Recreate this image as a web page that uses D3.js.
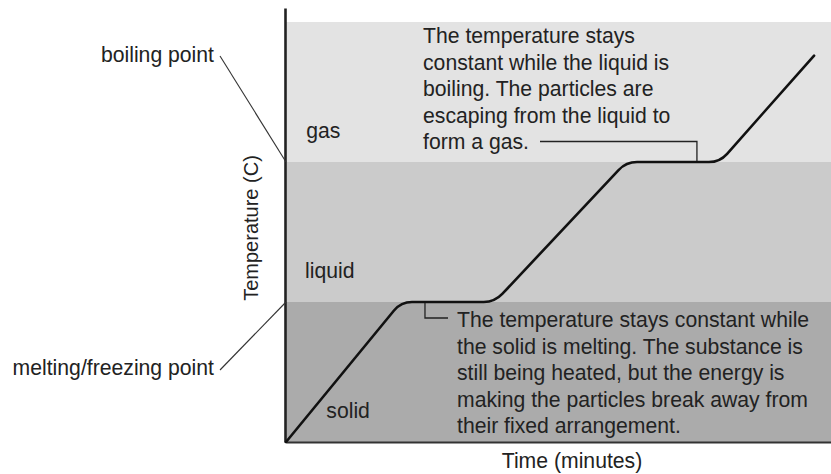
<!DOCTYPE html>
<html>
<head>
<meta charset="utf-8">
<script src="https://cdn.jsdelivr.net/npm/d3@7/dist/d3.min.js"></script>
<style>
  html, body { margin: 0; padding: 0; background: #fff; }
  svg { display: block; }
  text { font-family: "Liberation Sans", Arial, Helvetica, sans-serif; fill: #222; }
</style>
</head>
<body>
<svg id="chart" width="831" height="474"></svg>
<script>
// ---- data ----
const phases = ["solid", "liquid", "gas"];
const phaseLow = [-100, 0, 100];
const phaseHigh = [0, 100, 200];
const phaseColors = ["#ababab", "#cbcbcb", "#e3e3e3"];
const phaseLabelTime = [0.74, 0.35, 0.37];
const phaseLabelTemp = [-83, 17, 117];

const times = [0, 2.11, 3.83, 6.24, 7.96, 9.69];        // minutes
const temps = [-100, 0, 0, 100, 100, 176];              // °C

const pointNames = ["boiling point", "melting/freezing point"];
const pointTemps = [100, 0];

const noteGasLines = [
  "The temperature stays",
  "constant while the liquid is",
  "boiling. The particles are",
  "escaping from the liquid to",
  "form a gas."
];
const noteSolidLines = [
  "The temperature stays constant while",
  "the solid is melting. The substance is",
  "still being heated, but the energy is",
  "making the particles break away from",
  "their fixed arrangement."
];
const noteAnchorTime = [7.54, 2.55];
const noteAnchorTemp = [100, 0];

const xTitle = "Time (minutes)";
const yTitle = "Temperature (C)";

// ---- scales ----
const svg = d3.select("#chart");
const x = d3.scaleLinear().domain([0, 10]).range([286, 831]);
const y = d3.scaleLinear().domain([-100, 210]).range([442, 8]);
const fs = 21.2;

// phase bands
svg.append("g").selectAll("rect").data(phases).join("rect")
  .attr("x", x(0))
  .attr("width", x(10) - x(0))
  .attr("y", (d, i) => y(phaseHigh[i]))
  .attr("height", (d, i) => y(phaseLow[i]) - y(phaseHigh[i]))
  .attr("fill", (d, i) => phaseColors[i]);

// phase labels
svg.append("g").selectAll("text").data(phases).join("text")
  .attr("x", (d, i) => x(phaseLabelTime[i]))
  .attr("y", (d, i) => y(phaseLabelTemp[i]))
  .attr("font-size", fs)
  .text(d => d);

// axes (no ticks)
const yAxis = d3.axisLeft(y).tickValues([]).tickSizeOuter(0);
const xAxis = d3.axisBottom(x).tickValues([]).tickSizeOuter(0);
svg.append("g").attr("transform", `translate(${x(0) - 1},0)`).call(yAxis)
  .select(".domain").attr("stroke", "#222").attr("stroke-width", 2.6);
svg.append("g").attr("transform", `translate(0,${y(-100)})`).call(xAxis)
  .select(".domain").attr("stroke", "#333").attr("stroke-width", 2);

// heating curve with rounded corners
const pts = times.map((t, i) => [x(t), y(temps[i])]);
const r = 11;
const p = d3.path();
p.moveTo(pts[0][0], pts[0][1]);
for (let i = 1; i < pts.length - 1; i++) {
  const [px, py] = pts[i - 1], [cx, cy] = pts[i], [nx, ny] = pts[i + 1];
  const l1 = Math.hypot(cx - px, cy - py), l2 = Math.hypot(nx - cx, ny - cy);
  const ax = cx - (cx - px) / l1 * r, ay = cy - (cy - py) / l1 * r;
  const bx = cx + (nx - cx) / l2 * r, by = cy + (ny - cy) / l2 * r;
  p.lineTo(ax, ay);
  p.quadraticCurveTo(cx, cy, bx, by);
}
p.lineTo(pts[pts.length - 1][0], pts[pts.length - 1][1]);
svg.append("path").attr("d", p.toString())
  .attr("fill", "none").attr("stroke", "#111").attr("stroke-width", 2.6)
  .attr("stroke-linecap", "round").attr("stroke-linejoin", "round");

// point labels with leaders
const ptLabelY = [61.5, 375];
const ptLeaderY = [56, 370];
pointNames.forEach((name, i) => {
  svg.append("text").attr("x", 214).attr("y", ptLabelY[i])
    .attr("text-anchor", "end").attr("font-size", fs).text(name);
  svg.append("line")
    .attr("x1", 220).attr("y1", ptLeaderY[i])
    .attr("x2", x(0)).attr("y2", y(pointTemps[i]))
    .attr("stroke", "#333").attr("stroke-width", 1.1);
});

// annotation: gas
const gasNote = svg.append("text").attr("font-size", fs);
noteGasLines.forEach((s, i) => {
  gasNote.append("tspan").attr("x", 423).attr("y", 43 + i * 26.5).text(s);
});
svg.append("path")
  .attr("d", `M540,141.5 H${x(noteAnchorTime[0])} V${y(noteAnchorTemp[0]) - 1}`)
  .attr("fill", "none").attr("stroke", "#222").attr("stroke-width", 1.3);

// annotation: solid
const solidNote = svg.append("text").attr("font-size", fs);
noteSolidLines.forEach((s, i) => {
  solidNote.append("tspan").attr("x", 457).attr("y", 327 + i * 26.5).text(s);
});
svg.append("path")
  .attr("d", `M${x(noteAnchorTime[1])},${y(noteAnchorTemp[1]) + 1} V318 H448`)
  .attr("fill", "none").attr("stroke", "#222").attr("stroke-width", 1.3);

// axis titles
svg.append("text").attr("x", 572).attr("y", 468)
  .attr("text-anchor", "middle").attr("font-size", fs).text(xTitle);
svg.append("text")
  .attr("transform", "translate(258,228) rotate(-90)")
  .attr("text-anchor", "middle").attr("font-size", 20).text(yTitle);
</script>
</body>
</html>
